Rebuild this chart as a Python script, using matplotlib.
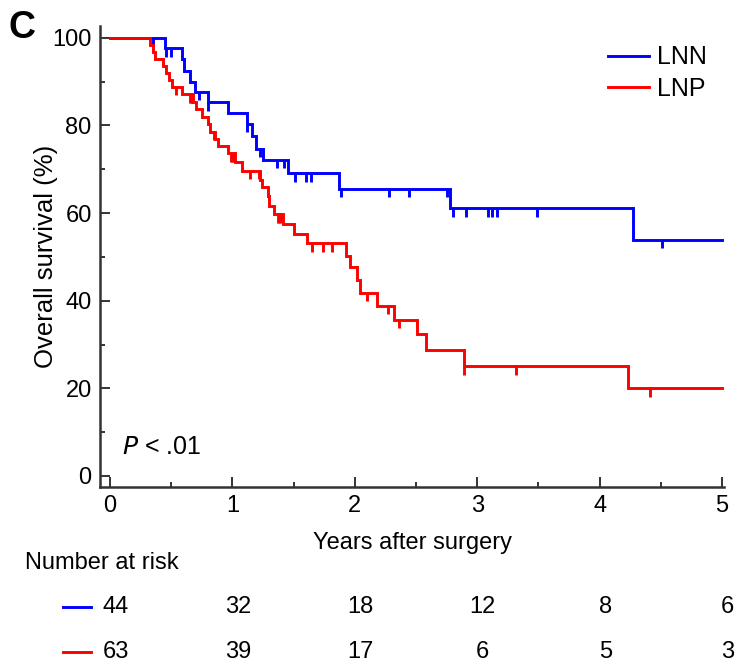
import numpy as np
import matplotlib
matplotlib.use('Agg')
import matplotlib.pyplot as plt
from matplotlib import transforms

plt.rcParams['font.family'] = ['Liberation Sans', 'DejaVu Sans']

# survival steps (years, % after each death)
lnn_t = [0.447, 0.585, 0.605, 0.65, 0.695, 0.80, 0.96, 1.117, 1.16, 1.195,
         1.25, 1.455, 1.874, 2.78, 4.27]
lnn_s = [97.6, 95.1, 92.5, 90.0, 87.7, 85.3, 82.8, 80.3, 77.5, 74.6,
         72.1, 69.1, 65.6, 61.1, 53.9]
lnn_cens = [0.35, 0.457, 0.498, 0.73, 0.80, 1.117, 1.225, 1.36, 1.42, 1.51,
            1.60, 1.64, 1.89, 2.28, 2.44, 2.75, 2.80, 2.91, 3.09, 3.12,
            3.16, 3.49, 4.51]

lnp_t = [0.33, 0.35, 0.37, 0.43, 0.46, 0.485, 0.51, 0.585, 0.68, 0.70,
         0.75, 0.80, 0.82, 0.86, 0.885, 0.967, 1.02, 1.08, 1.225, 1.24,
         1.29, 1.295, 1.34, 1.41, 1.50, 1.607, 1.93, 1.96, 2.015, 2.04,
         2.18, 2.32, 2.51, 2.58, 2.89, 4.235]
lnp_s = [98.4, 96.8, 95.2, 93.6, 92.0, 90.4, 88.8, 87.1, 85.4, 83.7,
         82.0, 80.3, 78.6, 77.0, 75.3, 73.6, 71.6, 69.7, 67.6, 65.9,
         63.8, 61.6, 59.7, 57.6, 55.3, 53.1, 50.2, 47.6, 44.7, 41.8,
         38.8, 35.6, 32.4, 28.8, 25.0, 20.0]
lnp_cens = [0.54, 0.65, 0.66, 0.67, 0.85, 0.99, 1.00, 1.01, 1.14, 1.22,
            1.37, 1.38, 1.40, 1.65, 1.74, 1.81, 2.10, 2.27, 2.36, 2.89,
            3.32, 4.41]

risk_times = [0, 1, 2, 3, 4, 5]
lnn_risk = [44, 32, 18, 12, 8, 6]
lnp_risk = [63, 39, 17, 6, 5, 3]

BLUE = '#0000ff'
RED = '#ff0000'
T_END = 5.0


def km_curve(ax, t, s, cens, color, label):
    t = np.asarray(t)
    vals = np.r_[100.0, s]
    ax.step(np.r_[0, t, T_END], np.r_[vals, vals[-1]], where='post',
            color=color, lw=2.1, label=label, solid_joinstyle='miter')
    cy = vals[np.searchsorted(t, cens, side='right')]
    ax.vlines(cens, cy - 1.9, cy, color=color, lw=2.1)


fig = plt.figure(figsize=(7.42, 6.63), dpi=100)
ax = fig.add_axes([0.1348, 0.2662, 0.841, 0.6946])

km_curve(ax, lnn_t, lnn_s, lnn_cens, BLUE, 'LNN')
km_curve(ax, lnp_t, lnp_s, lnp_cens, RED, 'LNP')

ax.set_xlim(-0.082, 5.016)
ax.set_ylim(-2.4, 102.7)
ax.set_xticks(range(6))
ax.set_xticks(np.arange(0.5, 5, 1.0), minor=True)
ax.set_yticks(range(0, 101, 20))
ax.set_yticks(range(10, 100, 20), minor=True)
for side in ('top', 'right'):
    ax.spines[side].set_visible(False)
for side in ('left', 'bottom'):
    ax.spines[side].set_linewidth(1.8)
    ax.spines[side].set_color('#333333')
ax.tick_params(which='major', direction='in', length=7, width=1.4,
               color='#333333', labelsize=17, pad=6)
ax.tick_params(which='minor', direction='in', length=3.5, width=1.4,
               color='#333333')
ax.set_xlabel('Years after surgery', fontsize=17, labelpad=11)
ax.set_ylabel('Overall survival (%)', fontsize=18.5, labelpad=-4)

ax.legend(frameon=False, loc='upper right', bbox_to_anchor=(0.972, 0.958),
          fontsize=18, handlelength=1.65, handletextpad=0.3,
          labelspacing=0.3, borderaxespad=0, borderpad=0)

ax.text(0.1, 6.6, '$P$ < .01', fontsize=18, va='center', ha='left')
fig.text(0.012, 0.985, 'C', fontsize=27, fontweight='bold', va='top')

# number at risk table
trans = transforms.blended_transform_factory(ax.transData, fig.transFigure)
fig.text(0.034, 0.151, 'Number at risk', fontsize=17, va='center')
for row_y, counts, color in ((0.0845, lnn_risk, BLUE), (0.0166, lnp_risk, RED)):
    fig.lines.append(plt.Line2D([0.085, 0.123], [row_y, row_y],
                                transform=fig.transFigure, color=color, lw=2.1))
    for x, n in zip(risk_times, counts):
        ax.text(x + 0.045, row_y, str(n), transform=trans, fontsize=17,
                ha='center', va='center', clip_on=False)

fig.savefig('out.png', dpi=100)
